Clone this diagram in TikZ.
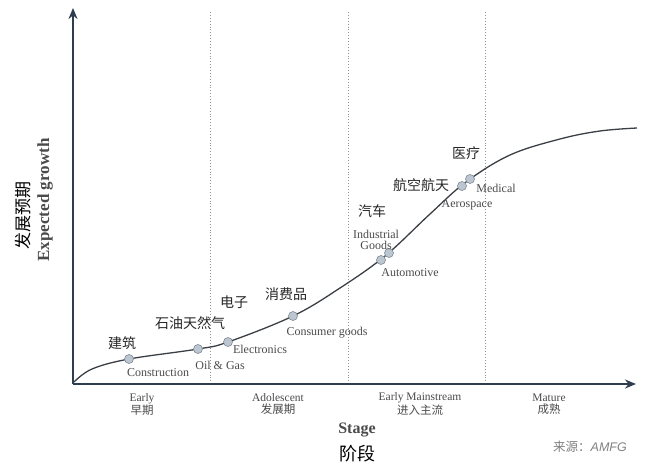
\documentclass[tikz,border=0pt]{standalone}
\usepackage{fontspec}
\setmainfont{Liberation Serif}
\newfontfamily\cjk{Noto Sans CJK SC}
\newfontfamily\srcfont{Liberation Sans}
\usetikzlibrary{positioning, arrows.meta}
\definecolor{axisblue}{HTML}{2E3E4E}
\definecolor{curvegray}{HTML}{3A3F45}
\definecolor{dotfill}{HTML}{BCC6D0}
\definecolor{dotdraw}{HTML}{7E8A96}
\definecolor{labelgray}{HTML}{4A4A4A}

\begin{document}
\begin{tikzpicture}[x=1pt, y=-1pt,
      axis/.style={draw=axisblue, line width=2pt, -{Stealth[length=11pt, width=9pt]}},
      stage/.style={draw=gray!85, dotted, line width=0.9pt},
      curve/.style={draw=curvegray, line width=1.3pt},
      pt/.style={circle, fill=dotfill, draw=dotdraw, line width=0.6pt, inner sep=0pt, minimum size=9pt},
      en/.style={font=\fontsize{12}{12.5}\selectfont, text=labelgray, inner sep=1pt, align=center},
      zh/.style={font=\cjk\fontsize{14}{15}\selectfont, text=black!85, inner sep=1pt},
      phase/.style={font=\fontsize{11.5}{12}\selectfont, text=labelgray, align=center, inner sep=0pt}]
      \useasboundingbox (0,0) rectangle (650,466);
      % axes
      \coordinate (o) at (73,384);
      \coordinate (ytop) at (73,8);
      \coordinate (xend) at (636,384);
      \draw[axis] (o) -- (ytop);
      \draw[axis] (o) -- (xend);
      % stage borders
      \foreach \x in {210,348,485}
        \draw[stage] (\x,12) -- (\x,383);
      % growth curve
      \draw[curve] plot[smooth, tension=0.6] coordinates {(74,382) (92,369) (129,359) (198,349)
        (228,342) (293,316) (340,288) (385,256) (430,214) (466,182) (510,155) (560,139)
        (600,131) (637,128)};
      % industries on the curve
      \node[pt] (constr) at (129,359) {};
      \node[pt] (oil)    at (198,349) {};
      \node[pt] (elec)   at (228,342) {};
      \node[pt] (cons)   at (293,316) {};
      \node[pt] (indus)  at (381,260) {};
      \node[pt] (auto)   at (389,253) {};
      \node[pt] (aero)   at (462,186) {};
      \node[pt] (med)    at (470,179) {};
      % labels
      \node[zh] (constrzh) at (122,343) {建筑};
      \node[en] (constren) at (158,373) {Construction};
      \node[zh] (oilzh)    at (190,323) {石油天然气};
      \node[en] (oilen)    at (220,365) {Oil \& Gas};
      \node[zh] (eleczh)   at (234,302) {电子};
      \node[en] (elecen)   at (260,349) {Electronics};
      \node[zh] (conszh)   at (286,294) {消费品};
      \node[en] (consen)   at (327,333) {Consumer goods};
      \node[zh] (autozh)   at (372,211) {汽车};
      \node[en] (indusen)  at (376,240) {Industrial\\[-2pt]Goods};
      \node[en] (autoen)   at (410,273) {Automotive};
      \node[zh] (aerozh)   at (421,185) {航空航天};
      \node[en] (aeroen)   at (467,205) {Aerospace};
      \node[zh] (medzh)    at (466,153) {医疗};
      \node[en] (meden)    at (496,188) {Medical};
      % y axis title
      \node[rotate=90, font=\cjk\fontsize{17}{18}\selectfont] (ytitlezh) at (23,215) {发展预期};
      \node[rotate=90, font=\bfseries\fontsize{17}{18}\selectfont, text=labelgray] (ytitle) at (45,200) {Expected growth};
      % stages
      \node[phase] (early) at (142,404) {Early\\{\cjk 早期}};
      \node[phase] (adol)  at (278,404) {Adolescent\\{\cjk 发展期}};
      \node[phase] (main)  at (420,404) {Early Mainstream\\{\cjk 进入主流}};
      \node[phase] (mat)   at (549,404) {Mature\\{\cjk 成熟}};
      \node[font=\bfseries\fontsize{16}{18}\selectfont, text=labelgray] (stage) at (357,430) {Stage};
      \node[font=\cjk\fontsize{18}{20}\selectfont, below=1pt of stage] (stagezh) {阶段};
      \node[font=\fontsize{12.5}{14}\selectfont, text=gray] (src) at (590,447) {{\cjk\itshape 来源：}{\srcfont\itshape AMFG}};
    \end{tikzpicture}
\end{document}
